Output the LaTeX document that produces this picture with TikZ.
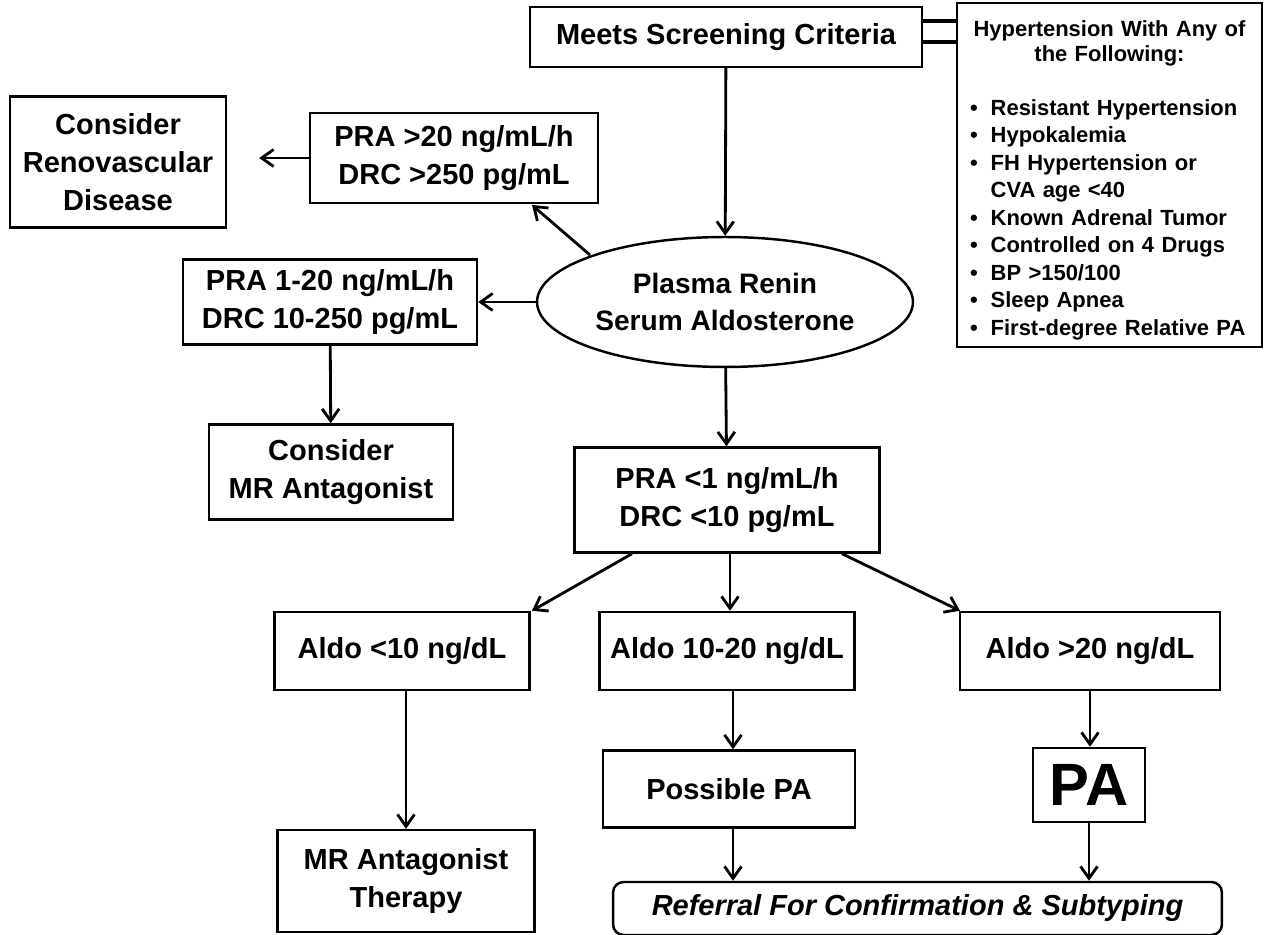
\documentclass[tikz,border=0pt]{standalone}
\usepackage{fontspec}
\setmainfont{Liberation Sans}
\usetikzlibrary{arrows.meta,shapes.geometric}
\tikzset{
  box/.style={draw,line width=1.4pt,align=center,inner sep=2pt,font=\bfseries\fontsize{16.5}{21.5}\selectfont},
  arr/.style={line width=1.6pt,-{Straight Barb[length=2.4mm,width=3.4mm,line width=1.6pt]}}
}
\begin{document}
\begin{tikzpicture}[x=0.02cm,y=-0.02cm]
  \useasboundingbox (0,0) rectangle (1269,935);
  % top
  \node[box,minimum width=7.84cm,minimum height=1.2cm] (screen) at (726,37) {Meets Screening Criteria};
  \node[box,minimum width=6.1cm,minimum height=6.8cm,text width=5.9cm,align=left,
        font=\bfseries\fontsize{12.5}{14.5}\selectfont] (crit) at (1109.5,175)
    {\centering\rule{0pt}{6mm}Hypertension With Any of\\ the Following:\par
     \vspace{5.5mm}
     \setlength{\tabcolsep}{0pt}\renewcommand{\arraystretch}{1.08}
     \hspace*{1.6mm}\begin{tabular}{@{}l@{\hspace{2.6mm}}l@{}}
     \textbullet & Resistant Hypertension\\
     \textbullet & Hypokalemia\\
     \textbullet & FH Hypertension or\\
                 & CVA age <40\\
     \textbullet & Known Adrenal  Tumor\\
     \textbullet & Controlled on 4 Drugs\\
     \textbullet & BP >150/100\\
     \textbullet & Sleep Apnea\\
     \textbullet & First-degree Relative PA
     \end{tabular}};
  \coordinate (d1) at (957,21);
  \coordinate (d2) at (957,42);
  \draw[line width=1.8pt] (screen.east |- d1) -- (d1);
  \draw[line width=1.8pt] (screen.east |- d2) -- (d2);
  % renin
  \node[draw,ellipse,line width=1.4pt,inner sep=0pt,minimum width=7.52cm,minimum height=2.6cm,align=center,
        font=\bfseries\fontsize{16}{21.5}\selectfont] (renin) at (725,302) {Plasma Renin\\ Serum Aldosterone};
  \node[box,minimum width=5.76cm,minimum height=1.8cm] (high) at (454,158) {PRA >20 ng/mL/h\\ DRC >250 pg/mL};
  \node[box,minimum width=4.32cm,minimum height=2.62cm] (reno) at (118,162) {Consider\\ Renovascular\\ Disease};
  \node[box,minimum width=5.88cm,minimum height=1.7cm] (mid) at (330,302) {PRA 1-20 ng/mL/h\\ DRC 10-250 pg/mL};
  \node[box,minimum width=4.88cm,minimum height=1.9cm] (mra) at (331,472) {Consider\\ MR Antagonist};
  \node[box,minimum width=6.1cm,minimum height=2.1cm] (low) at (727,500) {PRA <1 ng/mL/h\\ DRC <10 pg/mL};
  % aldo
  \node[box,minimum width=5.1cm,minimum height=1.56cm] (a1) at (402,651) {Aldo <10 ng/dL};
  \node[box,minimum width=5.1cm,minimum height=1.56cm] (a2) at (727,651) {Aldo 10-20 ng/dL};
  \node[box,minimum width=5.2cm,minimum height=1.56cm] (a3) at (1090,651) {Aldo >20 ng/dL};
  \node[box,minimum width=5.04cm,minimum height=1.54cm] (pos) at (729,789) {Possible PA};
  \node[box,minimum width=2.24cm,minimum height=1.48cm,font=\bfseries\fontsize{34}{36}\selectfont] (pa) at (1089,785) {PA};
  \node[box,minimum width=5.14cm,minimum height=2.04cm] (ther) at (406,881) {MR Antagonist\\ Therapy};
  \node[box,rounded corners=6pt,minimum width=12.18cm,minimum height=1.06cm,font=\bfseries\itshape\fontsize{16.5}{21.5}\selectfont] (ref) at (917.5,908.5) {Referral For Confirmation \& Subtyping};
  % arrows
  \coordinate (r1) at (590,255);
  \coordinate (h1) at (532,205);
  \draw[arr] (screen) -- (renin);
  \draw[arr] (r1) -- (h1);
  \draw[arr,shorten >=0.64cm] (high) -- (reno.east |- high);
  \draw[arr] (renin) -- (mid);
  \draw[arr] (mid) -- (mra);
  \draw[arr] (renin) -- (low);
  \draw[arr] ([xshift=-1.9cm]low.south) -- ([xshift=2.6cm]a1.north);
  \draw[arr] ([xshift=0.06cm]low.south) -- ([xshift=0.06cm]low.south |- a2.north);
  \draw[arr] ([xshift=2.3cm]low.south) -- ([xshift=-2.6cm]a3.north);
  \draw[arr] ([xshift=0.08cm]a1.south) -- ([xshift=0.08cm]a1.south |- ther.north);
  \draw[arr] ([xshift=0.12cm]a2.south) -- ([xshift=0.12cm]a2.south |- pos.north);
  \draw[arr] (a3) -- (a3 |- pa.north);
  \draw[arr] ([xshift=0.08cm]pos.south) -- ([xshift=0.08cm]pos.south |- ref.north);
  \draw[arr] (pa) -- (pa |- ref.north);
\end{tikzpicture}
\end{document}
